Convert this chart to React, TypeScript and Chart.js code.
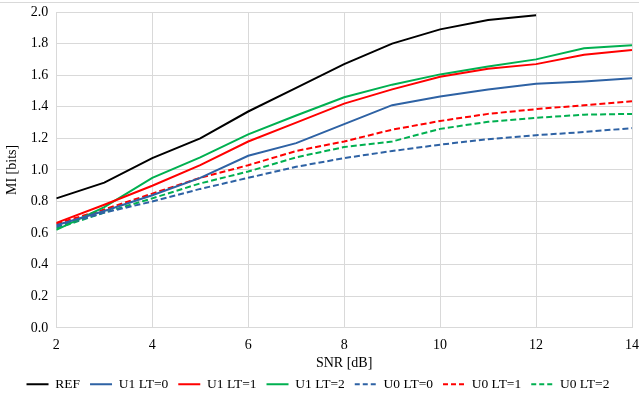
import React, { useEffect, useRef } from "react";
import { Chart, registerables } from "chart.js";

Chart.register(...registerables);

const snr = [2, 3, 4, 5, 6, 7, 8, 9, 10, 11, 12, 13, 14];
const refValues = [0.82, 0.92, 1.075, 1.2, 1.37, 1.52, 1.67, 1.8, 1.89, 1.95, 1.98];
const u1lt0 = [0.65, 0.74, 0.84, 0.95, 1.09, 1.17, 1.29, 1.41, 1.465, 1.51, 1.545, 1.56, 1.58];
const u1lt1 = [0.665, 0.78, 0.9, 1.03, 1.18, 1.3, 1.42, 1.51, 1.59, 1.64, 1.67, 1.73, 1.76];
const u1lt2 = [0.62, 0.765, 0.95, 1.08, 1.225, 1.345, 1.46, 1.54, 1.605, 1.655, 1.7, 1.77, 1.79];
const u0lt0 = [0.64, 0.73, 0.8, 0.88, 0.95, 1.02, 1.075, 1.12, 1.16, 1.195, 1.22, 1.24, 1.265];
const u0lt1 = [0.66, 0.75, 0.85, 0.95, 1.03, 1.12, 1.18, 1.255, 1.31, 1.355, 1.385, 1.41, 1.435];
const u0lt2 = [0.63, 0.73, 0.82, 0.915, 0.99, 1.08, 1.145, 1.18, 1.26, 1.305, 1.33, 1.35, 1.355];

const seriesNames = ["REF", "U1 LT=0", "U1 LT=1", "U1 LT=2", "U0 LT=0", "U0 LT=1", "U0 LT=2"];
const seriesValues = [refValues, u1lt0, u1lt1, u1lt2, u0lt0, u0lt1, u0lt2];
const seriesColors = ["#000000", "#2E62A4", "#FF0000", "#00B050", "#2E62A4", "#FF0000", "#00B050"];
const seriesDashed = [false, false, false, false, true, true, true];

const xTicks = [2, 4, 6, 8, 10, 12, 14];

export default function App() {
  const ref = useRef<HTMLCanvasElement>(null);
  useEffect(() => {
    if (!ref.current) return;
    const font = "'Liberation Serif', 'Times New Roman', serif";
    const chart = new Chart(ref.current, {
      type: "line",
      data: {
        datasets: seriesNames.map((name, i) => ({
          label: name,
          data: seriesValues[i].map((v, j) => ({ x: snr[j], y: v })),
          borderColor: seriesColors[i],
          backgroundColor: seriesColors[i],
          borderWidth: 2,
          borderDash: seriesDashed[i] ? [6, 3] : [],
          pointRadius: 0,
          pointStyle: "line",
          tension: 0,
          fill: false,
        })),
      },
      options: {
        animation: false,
        responsive: false,
        maintainAspectRatio: false,
        layout: { padding: { left: 4, right: 7, top: 12, bottom: -5 } },
        plugins: {
          tooltip: { enabled: false },
          legend: {
            position: "bottom",
            labels: {
              usePointStyle: true,
              pointStyleWidth: 22,
              boxHeight: 8,
              padding: 10,
              color: "#000",
              font: { family: font, size: 13.5 },
              generateLabels: (c: any) =>
                c.data.datasets.map((ds: any, i: number) => ({
                  text: ds.label,
                  fillStyle: ds.borderColor,
                  strokeStyle: ds.borderColor,
                  lineWidth: 2,
                  lineDash: seriesDashed[i] ? [5, 3] : [],
                  pointStyle: "line",
                  fontColor: "#000",
                  hidden: false,
                  datasetIndex: i,
                })),
            },
          },
        },
        scales: {
          x: {
            type: "linear",
            min: 2,
            max: 14,
            afterBuildTicks: (axis: any) => {
              axis.ticks = xTicks.map((v) => ({ value: v }));
            },
            afterFit: (axis: any) => {
              axis.paddingRight = 0;
            },
            grid: { color: "#D9D9D9", lineWidth: 1, drawTicks: false },
            border: { color: "#D9D9D9" },
            ticks: { color: "#000", padding: 9, font: { family: font, size: 14 }, maxRotation: 0 },
            title: { display: true, text: "SNR [dB]", color: "#000", font: { family: font, size: 14 }, padding: { top: -8, bottom: -4 } },
          },
          y: {
            min: 0,
            max: 2,
            afterFit: (axis: any) => {
              axis.paddingTop = 0;
            },
            grid: { color: "#D9D9D9", lineWidth: 1, drawTicks: false },
            border: { color: "#D9D9D9" },
            ticks: {
              stepSize: 0.2,
              color: "#000",
              padding: 8,
              font: { family: font, size: 14 },
              callback: (v: any) => Number(v).toFixed(1),
            },
            title: { display: true, text: "MI [bits]", color: "#000", font: { family: font, size: 14 }, padding: { top: 0, bottom: 2 } },
          },
        },
      },
    });
    return () => chart.destroy();
  }, []);
  return (
    <div style={{ position: "fixed", left: 0, top: 0, width: 639, height: 396, background: "#fff" }}>
      <div style={{ position: "absolute", left: 0, top: 2, width: 639, height: 1, background: "#D9D9D9" }} />
      <canvas ref={ref} width={639} height={396} style={{ display: "block" }} />
    </div>
  );
}
